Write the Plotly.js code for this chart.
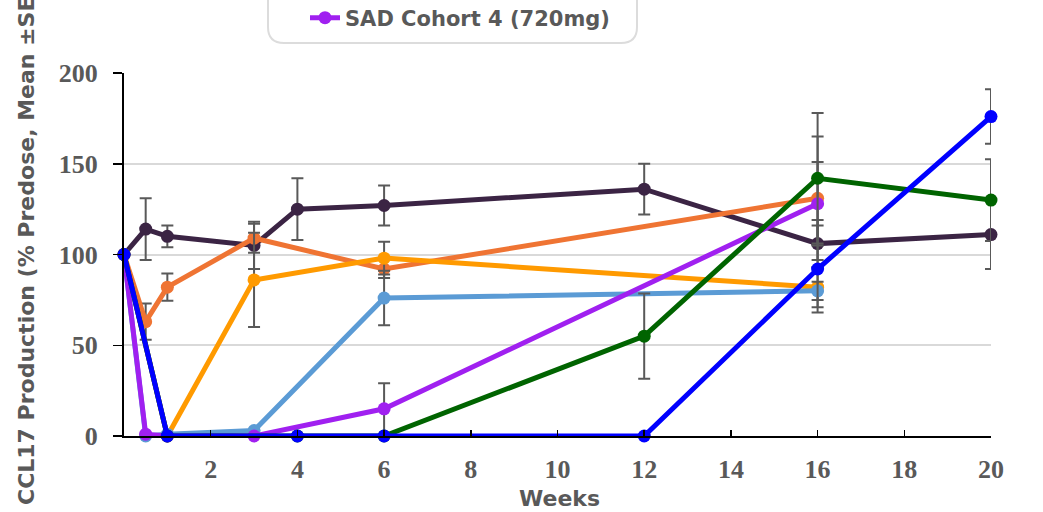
<!DOCTYPE html>
<html>
<head>
<meta charset="utf-8">
<script src="https://cdn.plot.ly/plotly-3.0.1.min.js"></script>
<style>html,body{margin:0;padding:0;background:#fff;}#chart{width:1043px;height:512px;}</style>
</head>
<body>
<div id="chart"></div>
<script>
// ---- data ----
const seriesNames = ["Placebo", "SAD Cohort 1", "SAD Cohort 2", "SAD Cohort 3", "SAD Cohort 4 (720mg)", "SAD Cohort 5", "SAD Cohort 6"];

const placeboWeeks = [0, 0.5, 1, 3, 4, 6, 12, 16, 20];
const placeboValues = [100, 114, 110, 105, 125, 127, 136, 106, 111];
const placeboSem = [0, 17, 6, 13, 17, 11, 14, 13, 19];

const cohort1Weeks = [0, 0.5, 1, 3, 6, 16];
const cohort1Values = [100, 63, 82, 109, 92, 131];
const cohort1Sem = [0, 10, 7.5, 8, 5, 34];

const cohort2Weeks = [0, 1, 3, 6, 16];
const cohort2Values = [100, 0, 86, 98, 82];
const cohort2Sem = [0, 0, 26, 9, 11];

const cohort3Weeks = [0, 0.5, 1, 3, 6, 16];
const cohort3Values = [100, 0, 1, 3, 76, 80];
const cohort3Sem = [0, 0, 0, 0, 15, 5];

const cohort4Weeks = [0, 0.5, 1, 3, 6, 16];
const cohort4Values = [100, 1, 0, 0, 15, 128];
const cohort4Sem = [0, 0, 0, 0, 14, 23];

const cohort5Weeks = [0, 1, 4, 6, 12, 16, 20];
const cohort5Values = [100, 0, 0, 0, 55, 142, 130];
const cohort5Sem = [0, 0, 0, 0, 23.5, 36, 22.5];

const cohort6Weeks = [0, 1, 4, 6, 12, 16, 20];
const cohort6Values = [100, 0, 0, 0, 0, 92, 176];
const cohort6Sem = [0, 0, 0, 0, 0, 24, 15];

const xTicks = [2, 4, 6, 8, 10, 12, 14, 16, 18, 20];
const yTicks = [0, 50, 100, 150, 200];

const xTitle = "Weeks";
const yTitle = "CCL17 Production (% Predose, Mean \u00B1SEM)";

// ---- styles ----
const colors = ["#3b2444", "#ef7433", "#ff9a00", "#5b9bd5", "#a020f0", "#006400", "#0000ff"];
const gray = "#595959";
const serif = "'Liberation Serif', 'Times New Roman', Times, serif";

const groups = [
  [placeboWeeks, placeboValues, placeboSem],
  [cohort1Weeks, cohort1Values, cohort1Sem],
  [cohort2Weeks, cohort2Values, cohort2Sem],
  [cohort3Weeks, cohort3Values, cohort3Sem],
  [cohort4Weeks, cohort4Values, cohort4Sem],
  [cohort5Weeks, cohort5Values, cohort5Sem],
  [cohort6Weeks, cohort6Values, cohort6Sem]
];

const traces = groups.map((g, i) => ({
  type: "scatter",
  mode: "lines+markers",
  name: seriesNames[i],
  x: g[0],
  y: g[1],
  showlegend: i === 4,
  cliponaxis: false,
  line: {color: colors[i], width: 5},
  marker: {color: colors[i], size: 13},
  error_y: {type: "data", array: g[2], visible: true, color: gray, thickness: 2, width: 6}
}));

// plot area in pixels
const L = 124, R = 991, T = 73, B = 436;
const W = 1043, H = 512;
const px = v => (v - L) / (R - L);
const py = v => (B - v) / (B - T);

// rounded legend frame (top edge off-screen)
function roundRect(x0, y0, x1, y1, r) {
  return "M" + px(x0 + r) + "," + py(y0) +
    " L" + px(x1 - r) + "," + py(y0) +
    " Q" + px(x1) + "," + py(y0) + " " + px(x1) + "," + py(y0 + r) +
    " L" + px(x1) + "," + py(y1 - r) +
    " Q" + px(x1) + "," + py(y1) + " " + px(x1 - r) + "," + py(y1) +
    " L" + px(x0 + r) + "," + py(y1) +
    " Q" + px(x0) + "," + py(y1) + " " + px(x0) + "," + py(y1 - r) +
    " L" + px(x0) + "," + py(y0 + r) +
    " Q" + px(x0) + "," + py(y0) + " " + px(x0 + r) + "," + py(y0) + " Z";
}

const layout = {
  width: W, height: H,
  margin: {l: L, r: W - R, t: T, b: H - B, autoexpand: false},
  paper_bgcolor: "#ffffff",
  plot_bgcolor: "#ffffff",
  showlegend: true,
  legend: {
    xref: "container", yref: "container",
    x: 305 / W, y: 1 - 18 / H, xanchor: "left", yanchor: "middle",
    bgcolor: "rgba(0,0,0,0)", borderwidth: 0,
    font: {family: "DejaVu Sans", size: 21, color: gray, weight: "bold"}
  },
  xaxis: {
    range: [0, 20],
    tickvals: xTicks,
    ticktext: xTicks.map(String),
    ticks: "inside", ticklen: 6, tickwidth: 1.5, tickcolor: "#000",
    showline: true, linecolor: "#000", linewidth: 2,
    showgrid: false, zeroline: false, automargin: false,
    tickfont: {family: serif, size: 26, color: gray, weight: "bold"},
    ticklabelstandoff: 9
  },
  yaxis: {
    range: [0, 200],
    tickvals: yTicks,
    ticks: "outside", ticklen: 9, tickwidth: 1.5, tickcolor: "#000",
    showline: true, linecolor: "#000", linewidth: 2,
    showgrid: true, gridcolor: "#d9d9d9", gridwidth: 2, zeroline: false, automargin: false,
    tickfont: {family: serif, size: 26, color: gray, weight: "bold"},
    ticklabelstandoff: 10
  },
  annotations: [
    {text: yTitle, xref: "paper", yref: "paper", x: px(27), y: py(235), xanchor: "center", yanchor: "middle",
     textangle: -90, showarrow: false, font: {family: "DejaVu Sans", size: 22, color: gray, weight: "bold"}},
    {text: xTitle, xref: "paper", yref: "paper", x: px(559), y: py(498), xanchor: "center", yanchor: "middle",
     showarrow: false, font: {family: "DejaVu Sans", size: 22, color: gray, weight: "bold"}}
  ],
  shapes: [
    {type: "path", xref: "paper", yref: "paper", path: roundRect(268, -40, 637, 43, 16),
     line: {color: "#dcdcdc", width: 2}, fillcolor: "rgba(0,0,0,0)", layer: "below"}
  ]
};

Plotly.newPlot("chart", traces, layout, {displayModeBar: false, staticPlot: true});
</script>
</body>
</html>
